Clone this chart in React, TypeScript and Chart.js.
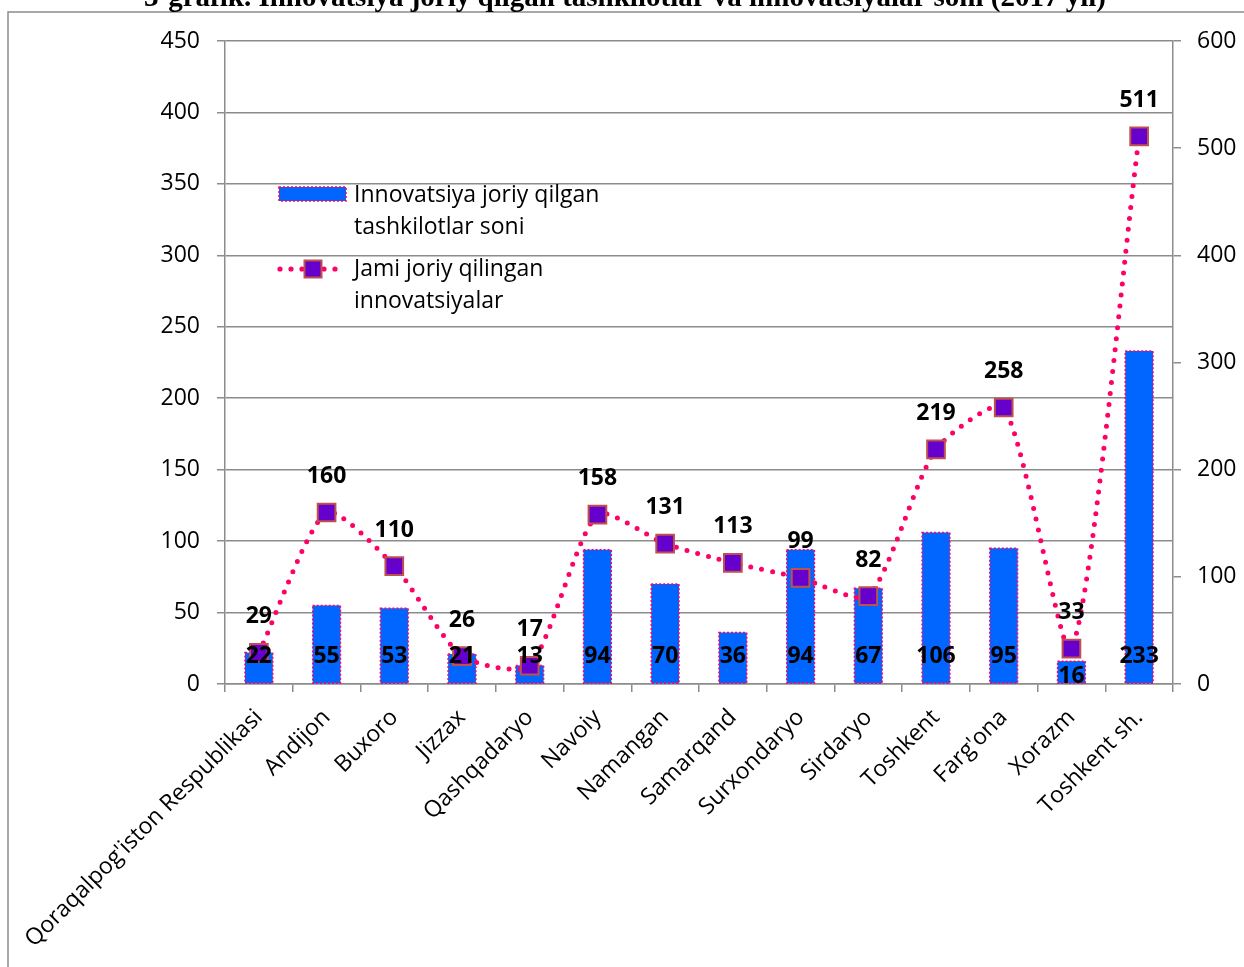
import { useEffect, useRef } from "react";
import { Chart, registerables } from "chart.js";

Chart.register(...registerables);

const titleText = "3-grafik. Innovatsiya joriy qilgan tashkilotlar va innovatsiyalar soni (2017 yil)";
const categories = [
  "Qoraqalpog'iston Respublikasi",
  "Andijon",
  "Buxoro",
  "Jizzax",
  "Qashqadaryo",
  "Navoiy",
  "Namangan",
  "Samarqand",
  "Surxondaryo",
  "Sirdaryo",
  "Toshkent",
  "Farg'ona",
  "Xorazm",
  "Toshkent sh.",
];
const organizations = [22, 55, 53, 21, 13, 94, 70, 36, 94, 67, 106, 95, 16, 233];
const innovations = [29, 160, 110, 26, 17, 158, 131, 113, 99, 82, 219, 258, 33, 511];
const leftAxisMax = 450;
const leftAxisStep = 50;
const rightAxisMax = 600;
const rightAxisStep = 100;
const legendBarLines = ["Innovatsiya joriy qilgan", "tashkilotlar soni"];
const legendLineLines = ["Jami joriy qilingan", "innovatsiyalar"];

const BAR_BLUE = "#0066FF";
const PINK = "#FF0066";
const PURPLE = "#6600CC";
const MARKER_EDGE = "#C0504D";
const GRID = "#8c8c8c";
const FONT = "Open Sans";

function drawMarker(ctx: CanvasRenderingContext2D, cx: number, cy: number, side: number) {
  ctx.save();
  ctx.setLineDash([]);
  ctx.fillStyle = PURPLE;
  ctx.strokeStyle = MARKER_EDGE;
  ctx.lineWidth = 2;
  ctx.fillRect(cx - side / 2, cy - side / 2, side, side);
  ctx.strokeRect(cx - side / 2, cy - side / 2, side, side);
  ctx.restore();
}

const overlayPlugin = {
  id: "overlay",
  beforeDraw(chart: any) {
    const ctx = chart.ctx as CanvasRenderingContext2D;
    ctx.save();
    ctx.fillStyle = "#fff";
    ctx.fillRect(0, 0, chart.width, chart.height);
    ctx.strokeStyle = GRID;
    ctx.lineWidth = 1.5;
    ctx.beginPath();
    ctx.moveTo(8, chart.height);
    ctx.lineTo(8, 12);
    ctx.lineTo(chart.width, 12);
    ctx.stroke();
    ctx.fillStyle = "#000";
    ctx.font = 'bold 29px "Liberation Serif"';
    ctx.textAlign = "center";
    ctx.textBaseline = "alphabetic";
    ctx.fillText(titleText, 625, 6);
    ctx.restore();
  },
  afterDatasetDraw(chart: any, args: any) {
    if (args.meta.type !== "bar") return;
    const ctx = chart.ctx as CanvasRenderingContext2D;
    ctx.save();
    ctx.strokeStyle = PINK;
    ctx.lineWidth = 1.5;
    ctx.setLineDash([2, 2]);
    args.meta.data.forEach((el: any) => {
      const p = el.getProps(["x", "y", "base", "width"], true);
      ctx.strokeRect(p.x - p.width / 2, p.y, p.width, p.base - p.y);
    });
    ctx.restore();
  },
  afterDatasetsDraw(chart: any) {
    const ctx = chart.ctx as CanvasRenderingContext2D;
    ctx.save();
    ctx.fillStyle = "#000";
    ctx.font = `bold 23px "${FONT}"`;
    ctx.textAlign = "center";
    ctx.textBaseline = "middle";
    const barMeta = chart.getDatasetMeta(0);
    barMeta.data.forEach((el: any, i: number) => {
      const p = el.getProps(["x", "base"], true);
      const lift = i === 12 ? 7 : 27;
      ctx.fillText(String(organizations[i]), p.x, p.base - lift);
    });
    const lineMeta = chart.getDatasetMeta(1);
    lineMeta.data.forEach((el: any, i: number) => {
      const p = el.getProps(["x", "y"], true);
      ctx.fillText(String(innovations[i]), p.x, p.y - 36);
    });

    ctx.font = `23px "${FONT}"`;
    ctx.textAlign = "left";
    ctx.textBaseline = "middle";
    ctx.fillStyle = BAR_BLUE;
    ctx.fillRect(279, 187, 67, 14);
    ctx.strokeStyle = PINK;
    ctx.lineWidth = 1.5;
    ctx.setLineDash([2, 2]);
    ctx.strokeRect(279, 187, 67, 14);
    ctx.setLineDash([]);
    ctx.fillStyle = "#000";
    ctx.fillText(legendBarLines[0], 354, 195);
    ctx.fillText(legendBarLines[1], 354, 227);
    ctx.fillStyle = PINK;
    [280, 291, 302, 324, 335].forEach((dx) => {
      ctx.beginPath();
      ctx.arc(dx, 269, 2.6, 0, Math.PI * 2);
      ctx.fill();
    });
    drawMarker(ctx, 313, 269, 17);
    ctx.fillStyle = "#000";
    ctx.fillText(legendLineLines[0], 354, 269);
    ctx.fillText(legendLineLines[1], 354, 301);
    ctx.restore();
  },
};

export default function App() {
  const ref = useRef<HTMLCanvasElement | null>(null);
  useEffect(() => {
    if (!ref.current) return;
    const chart = new Chart(ref.current, {
      type: "bar",
      data: {
        labels: categories,
        datasets: [
          {
            type: "bar",
            label: legendBarLines.join(" "),
            data: organizations,
            backgroundColor: BAR_BLUE,
            borderWidth: 0,
            barPercentage: 0.41,
            categoryPercentage: 1,
            yAxisID: "y",
            order: 2,
          },
          {
            type: "line",
            label: legendLineLines.join(" "),
            data: innovations,
            yAxisID: "y1",
            borderColor: PINK,
            borderWidth: 5,
            borderDash: [0, 11],
            borderCapStyle: "round",
            tension: 0.22,
            pointStyle: "rect",
            pointRadius: 12.5,
            pointBackgroundColor: PURPLE,
            pointBorderColor: MARKER_EDGE,
            pointBorderWidth: 2,
            fill: false,
            clip: false as any,
            order: 1,
          },
        ],
      },
      options: {
        responsive: false,
        animation: false,
        devicePixelRatio: 1,
        layout: { padding: { top: 41, left: 0, right: 0, bottom: 0 } },
        plugins: {
          legend: { display: false },
          tooltip: { enabled: false },
          title: { display: false },
        },
        scales: {
          x: {
            offset: true,
            grid: {
              display: true,
              drawOnChartArea: false,
              drawTicks: true,
              tickLength: 8,
              color: GRID,
              lineWidth: 1.5,
              offset: true,
            },
            border: { display: true, color: GRID, width: 1.5 },
            ticks: {
              autoSkip: false,
              maxRotation: 45,
              minRotation: 45,
              color: "#000",
              padding: 12,
              font: { family: FONT, size: 23 },
            },
            afterFit(s: any) {
              s.height = 283;
            },
          },
          y: {
            position: "left",
            min: 0,
            max: leftAxisMax,
            grid: { color: GRID, lineWidth: 1.5, tickLength: 8, drawTicks: true },
            border: { display: true, color: GRID, width: 1.5 },
            ticks: {
              stepSize: leftAxisStep,
              color: "#000",
              padding: 17,
              font: { family: FONT, size: 23 },
            },
            afterFit(s: any) {
              s.width = 225;
            },
          },
          y1: {
            position: "right",
            min: 0,
            max: rightAxisMax,
            grid: { drawOnChartArea: false, color: GRID, lineWidth: 1.5, tickLength: 8, drawTicks: true },
            border: { display: true, color: GRID, width: 1.5 },
            ticks: {
              stepSize: rightAxisStep,
              color: "#000",
              padding: 16,
              font: { family: FONT, size: 23 },
            },
            afterFit(s: any) {
              s.width = 71;
            },
          },
        },
      } as any,
      plugins: [overlayPlugin],
    });
    return () => chart.destroy();
  }, []);
  return (
    <div style={{ position: "absolute", left: 0, top: 0, width: 1244, height: 967 }}>
      <canvas ref={ref} width={1244} height={967} style={{ width: 1244, height: 967, display: "block" }} />
    </div>
  );
}
